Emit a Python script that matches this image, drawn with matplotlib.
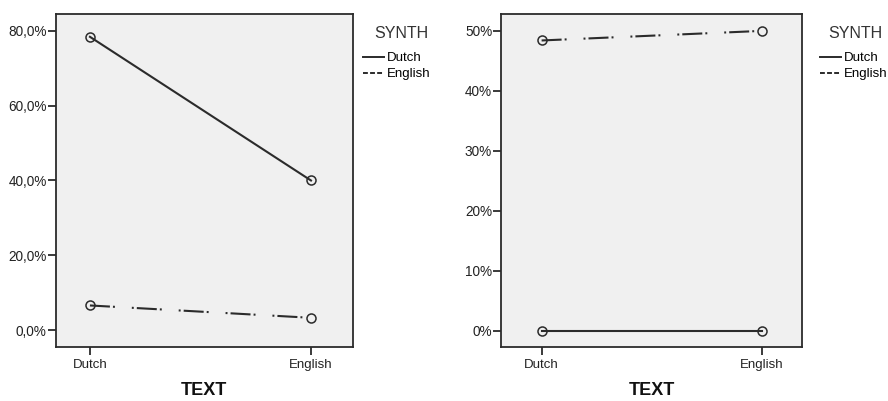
import numpy as np
import matplotlib
matplotlib.use("Agg")
import matplotlib.pyplot as plt
from matplotlib.lines import Line2D
from matplotlib.ticker import FuncFormatter

plt.rcParams["font.family"] = ["Liberation Sans", "DejaVu Sans"]
plt.rcParams["lines.scale_dashes"] = False

# data
text_cats = ["Dutch", "English"]
synth_series = ["Dutch", "English"]

left_dutch = [78.4, 40.0]
left_english = [6.6, 3.3]
right_dutch = [0.0, 0.0]
right_english = [48.4, 50.0]

left_ticks = [0, 20, 40, 60, 80]
right_ticks = [0, 10, 20, 30, 40, 50]

INK = "#2b2b2b"
BG = "#f0f0f0"
DASHDOT = (0, (14.4, 2.2, 1.4, 12.2, 1.4, 2.2))

W, H = 888, 401
fig = plt.figure(figsize=(W / 100, H / 100), dpi=100)


def panel(rect, dutch, english, ticks, xlim, ylim, fmt, leg_x, title_x):
    ax = fig.add_axes(rect)
    ax.set_facecolor(BG)
    x = np.arange(len(text_cats))
    ax.plot(x, dutch, color=INK, lw=1.5, ls="-", marker="o", ms=6.5,
            mfc="none", mec=INK, mew=1.1)
    ax.plot(x, english, color=INK, lw=1.5, ls=DASHDOT, marker="o", ms=6.5,
            mfc="none", mec=INK, mew=1.1)
    ax.set_xlim(*xlim)
    ax.set_ylim(*ylim)
    ax.set_xticks(x)
    ax.set_xticklabels(text_cats)
    ax.set_yticks(ticks)
    ax.yaxis.set_major_formatter(FuncFormatter(fmt))
    for s in ax.spines.values():
        s.set_color(INK)
        s.set_linewidth(1.3)
    ax.tick_params(axis="both", direction="out", length=5.5, width=1.3,
                   color=INK, labelcolor="#222222", pad=1)
    ax.tick_params(axis="y", labelsize=9.8)
    ax.tick_params(axis="x", labelsize=9.5, pad=3)
    ax.set_xlabel("TEXT", fontsize=13, fontweight="bold", labelpad=8,
                  color="#111111")

    # legend title placed on its own, entries below it
    fig.text(title_x / W, 1 - 33 / H, "SYNTH", ha="center", va="center",
             fontsize=11.5, color="#333333")
    handles = [
        Line2D([], [], color=INK, lw=1.4, ls="-"),
        Line2D([], [], color=INK, lw=1.4,
               ls=(0, (3.5, 1.6, 3.5, 1.6, 3.5, 1.6, 1.2, 1.6))),
    ]
    fig.legend(handles, synth_series, loc="upper left",
               bbox_to_anchor=(leg_x / W, 1 - 52 / H), frameon=False,
               fontsize=9.5, handlelength=1.6, handletextpad=0.2,
               labelspacing=0.3, borderaxespad=0, borderpad=0)
    return ax


panel([0.0627, 0.1347, 0.3348, 0.8304], left_dutch, left_english, left_ticks,
      (-0.155, 1.190), (-4.5, 84.5), lambda v, p: f"{v:.1f}%".replace(".", ","),
      363, 401)
panel([0.5645, 0.1339, 0.3383, 0.8310], right_dutch, right_english, right_ticks,
      (-0.183, 1.180), (-2.76, 52.8), lambda v, p: f"{v:.0f}%", 820, 855)

fig.savefig("out.png", dpi=100)
